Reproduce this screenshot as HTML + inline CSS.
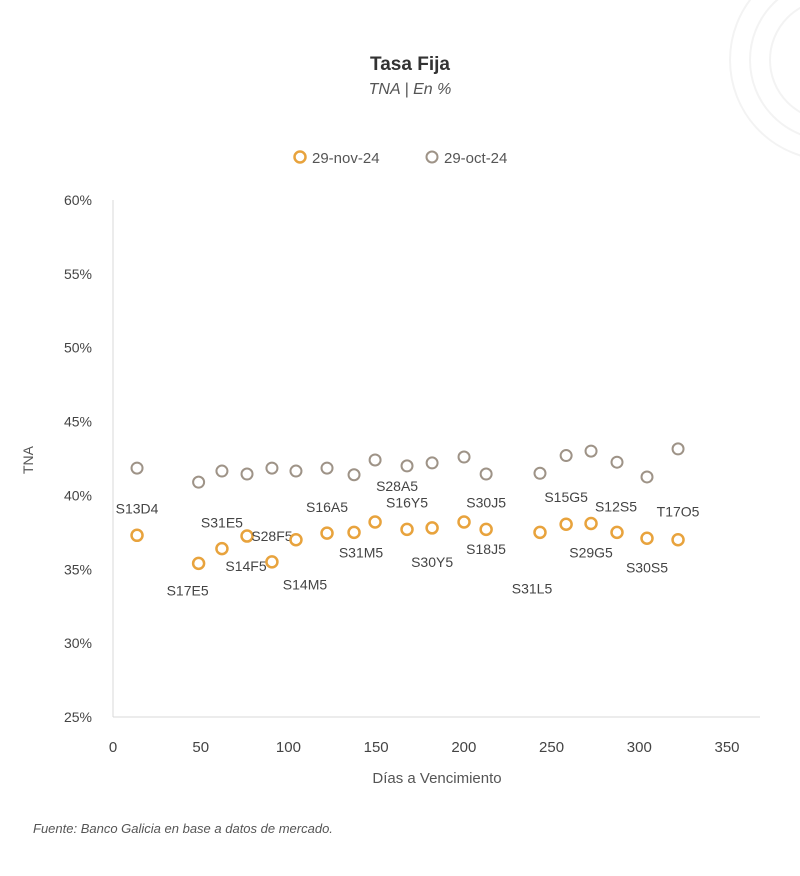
<!DOCTYPE html>
<html><head><meta charset="utf-8"><style>
body{margin:0;background:#fff;width:800px;height:871px;overflow:hidden;font-family:"Liberation Sans",sans-serif}
</style></head><body>
<svg width="800" height="871" xmlns="http://www.w3.org/2000/svg">
<g fill="none" stroke="#f3f3f3" stroke-width="2">
<circle cx="830" cy="60" r="60"/><circle cx="830" cy="60" r="80"/><circle cx="830" cy="60" r="100"/>
</g>
<text x="410" y="70" text-anchor="middle" font-size="19" font-weight="bold" fill="#333">Tasa Fija</text>
<text x="410" y="94" text-anchor="middle" font-size="16" font-style="italic" fill="#555">TNA | En %</text>
<g>
<g><circle cx="300" cy="157" r="5.5" fill="none" stroke="#E8A33D" stroke-width="2.5"/><text x="312" y="163" font-size="15" fill="#555">29-nov-24</text></g>
<g><circle cx="432" cy="157" r="5.5" fill="none" stroke="#9E9387" stroke-width="2"/><text x="444" y="163" font-size="15" fill="#555">29-oct-24</text></g>
</g>
<g id="axes"></g>
<g id="marks"></g>
<text x="33" y="460" transform="rotate(-90 33 460)" text-anchor="middle" font-size="14" fill="#555">TNA</text>
<text x="437" y="783" text-anchor="middle" font-size="15" fill="#555">Días a Vencimiento</text>
<text x="33" y="833" font-size="13" font-style="italic" fill="#555">Fuente: Banco Galicia en base a datos de mercado.</text>
</svg>
<script>
const xTicks=[0,50,100,150,200,250,300,350];
const yTicks=[25,30,35,40,45,50,55,60];
const labels=["S13D4","S17E5","S31E5","S14F5","S28F5","S14M5","S16A5","S31M5","S28A5","S16Y5","S30Y5","S18J5","S30J5","S31L5","S15G5","S29G5","S12S5","S30S5","T17O5"];
const days=[13.7,48.8,62.1,76.4,90.6,104.3,122,137.4,149.4,167.6,181.9,200.1,212.7,243.4,258.3,272.5,287.3,304.4,322.1];
const novVals=[37.3,35.4,36.4,37.25,35.5,37.0,37.45,37.5,38.2,37.7,37.8,38.2,37.7,37.5,38.05,38.1,37.5,37.1,37.0];
const octVals=[41.85,40.9,41.65,41.45,41.85,41.65,41.85,41.4,42.4,42.0,42.2,42.6,41.45,41.5,42.7,43.0,42.25,41.25,43.15];
const lblDx=[0,-11,0,-1,0,9,0,7,22,0,0,22,0,-8,0,0,-1,0,0];
const lblDy=[-27,27,-26,30,-26,45,-26,20,-36,-27,34,27,-27,56,-27,29,-26,29,-28];
const X=v=>113+v*(614/350), Y=v=>200+(60-v)*(517/35);
const NS="http://www.w3.org/2000/svg";
function mk(t,a,p){const e=document.createElementNS(NS,t);for(const k in a)e.setAttribute(k,a[k]);p.appendChild(e);return e;}
const ax=document.getElementById('axes'), mg=document.getElementById('marks');
let yl=mk('line',{x1:113,y1:200,x2:113,y2:717,stroke:'#d9d9d9','stroke-width':1},ax);


let xl=mk('line',{x1:113,y1:717,x2:760,y2:717,stroke:'#d9d9d9','stroke-width':1},ax);


yTicks.forEach(v=>{const t=mk('text',{x:92,y:Y(v)+5,'text-anchor':'end','font-size':14,fill:'#444'},ax);t.textContent=v+'%';

});
xTicks.forEach(v=>{const t=mk('text',{x:X(v),y:752,'text-anchor':'middle','font-size':15,fill:'#444'},ax);t.textContent=v;

});
days.forEach((d,i)=>{
 const c=mk('circle',{cx:X(d),cy:Y(octVals[i]),r:5.5,fill:'none',stroke:'#9E9387','stroke-width':2},mg);
 
 
});
days.forEach((d,i)=>{
 const c=mk('circle',{cx:X(d),cy:Y(novVals[i]),r:5.5,fill:'none',stroke:'#E8A33D','stroke-width':2.5},mg);
 
 
 const t=mk('text',{x:X(d)+lblDx[i],y:Y(novVals[i])+lblDy[i]+5,'text-anchor':'middle','font-size':14,fill:'#444'},mg);
 t.textContent=labels[i];
 
 
});
</script>
</body></html>
